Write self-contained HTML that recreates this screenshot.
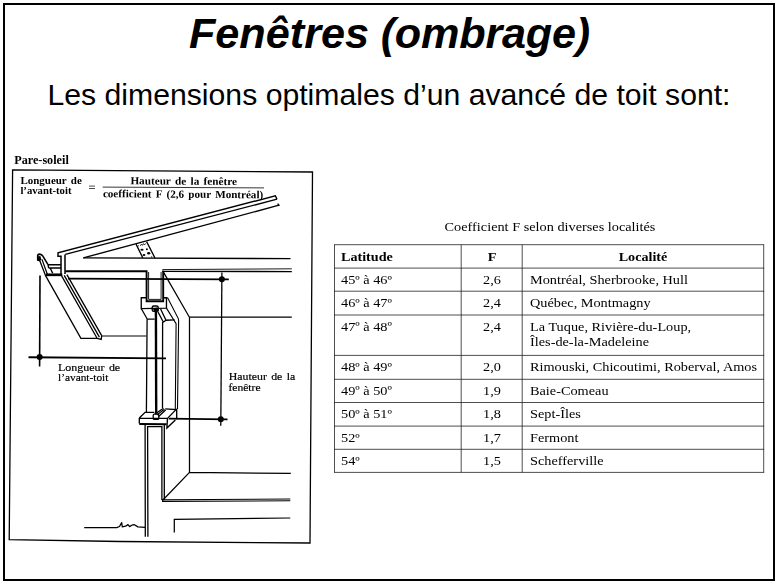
<!DOCTYPE html>
<html><head><meta charset="utf-8">
<style>
html,body{margin:0;padding:0;background:#fff;}
body{width:778px;height:585px;position:relative;overflow:hidden;font-family:"Liberation Sans",sans-serif;color:#000;}
.frame{position:absolute;left:3px;top:2.5px;width:768px;height:574.5px;border:2px solid #000;}
.title{position:absolute;left:0;width:778px;top:6.7px;word-spacing:-0.3px;padding-left:1px;box-sizing:border-box;text-align:center;font-size:43.2px;font-weight:bold;font-style:italic;line-height:52px;white-space:nowrap;}
.sub{position:absolute;left:0;width:778px;top:77px;text-align:center;font-size:30.2px;line-height:36px;white-space:nowrap;}
.ser{font-family:"Liberation Serif",serif;}
.t{position:absolute;white-space:nowrap;font-family:"Liberation Serif",serif;line-height:1;}
.tb{font-size:13.4px;}
.o{position:relative;top:1.8px;}
</style></head><body>
<div class="frame"></div>
<div class="title">Fenêtres <span style="letter-spacing:-0.2px">(ombrage)</span></div>
<div class="sub">Les dimensions optimales d’un avancé de toit sont:</div>
<!--DIAGRAM-->
<svg style="position:absolute;left:0;top:0;filter:grayscale(1)" width="778" height="585" viewBox="0 0 778 585">
<g fill="none" stroke="#000" stroke-width="1.35" stroke-linecap="butt" stroke-linejoin="miter">
<!-- frame -->
<path id="fr" d="M12.6,169.8 L312.5,172 L310,543 L120,541.5 L9.2,539.7 Z" stroke-width="1.3"/>
<!-- formula line -->
<path d="M102.7,187.1 L264,187.9" stroke-width="0.8"/>
<path d="M89,186.1 H95 M89,188.5 H95" stroke-width="0.7"/>
<!-- roof -->
<path d="M58,256.9 V252.9 L275.3,195.8 L277,199.2" stroke-width="1.45"/>
<path d="M65.3,254.3 L277,199.2"/>
<path d="M83.3,257.9 L279,205.2 M277.6,203.6 L279.4,205.8"/>
<path d="M83.3,257.9 L290.5,258.6"/>
<!-- fascia cap -->
<path d="M58,256.2 H61 V274.7 M65,254.5 V274" stroke-width="1.5"/>
<!-- gusset -->
<path d="M136.05,244.1 L142.8,257.9 M146.6,241.6 L154.9,257.9" stroke-width="1.3"/>
<g stroke="none" fill="#000"><circle cx="138.4" cy="245.7" r="0.55"/><ellipse cx="142" cy="249.8" rx="1.6" ry="1"/><circle cx="146.9" cy="249.2" r="0.95"/><ellipse cx="144" cy="255" rx="1.4" ry="1"/><ellipse cx="148.7" cy="253.3" rx="1.6" ry="1.25"/><circle cx="151.7" cy="256.8" r="0.6"/></g><path d="M140.3,245.8 L141.6,244 L142.4,245.4 L143.6,243.6 L144.5,245 L145.6,243.4" stroke-width="0.8"/>
<!-- gutter -->
<path d="M37.7,260.6 V255.8 Q37.7,254.1 39.6,254.1 Q41.8,254.3 42.7,255.9 L48,264.7" stroke-width="1.6" stroke-linejoin="round"/>
<path d="M39.9,261 L45.7,276 M42,259.4 L47.4,274.4" stroke-width="1.3"/>
<path d="M48,264.8 H61.1 M48.7,268 H61.1 M48,264.7 L48.7,268 M50.3,268.3 L52.7,273.3" stroke-width="1.4"/>
<path d="M46,274.8 H62.3" stroke-width="2.7"/>
<!-- ceiling/top plate thick with U -->
<path d="M65.3,271.2 H146.6 V301.3 H163.2 V271.2" stroke-width="1.9"/>
<path d="M162.3,271.4 L291.8,271.6" stroke-width="1.4"/>
<path d="M162.4,269.6 L291.8,268.8" stroke-width="0.9"/>
<path d="M148.6,272 V299.4 H161.1 V272" stroke-width="0.9"/>
<!-- lower soffit line / dim line -->
<path d="M68,278.7 L228.8,279.4" stroke-width="1.8"/>
<!-- vertical dim line for hauteur -->
<path d="M221.9,272.6 L220.8,425.7" stroke-width="1.3"/>
<path d="M168.8,418.7 L227.5,419.3" stroke-width="1.8"/>
<!-- longueur dim -->
<path d="M40,275.5 L39.6,366.6" stroke-width="1.6"/>
<path d="M28.5,357.2 L166,358.4" stroke-width="1.9"/>
<!-- fascia board sloping -->
<path d="M45.4,275.4 L80.9,338.3 H97.1 L61.6,275.9 M64.2,275.4 L99.4,337.1 M66.9,274.6 L101.7,335.6 M97.1,338.3 L101.2,339.4 L101.7,335.6" stroke-width="1.3"/>
<path d="M101.7,336 H146.5" stroke-width="1.2"/>
<!-- room lines -->
<path d="M162.6,270.6 L189.4,317.2 L291.8,317.2 M189.5,317.2 V472.4 L290.8,473.4 M189.5,472.4 L162.2,500.7" stroke-width="1.25"/>
<path d="M162,499.8 L290.3,499 M162,501.4 L290.3,500.8" stroke-width="1.1"/>
<path d="M174.3,532.6 V519.4 L290.3,518" stroke-width="1.25"/>
<!-- ground -->
<path d="M84.2,527.7 L116.7,527.6 L119.5,526.5 L121.7,522.6 L122.3,526.9 L125.5,526.2 L128,524.6 L129.6,526.6 L131.8,525.2 L134.4,524.7 L137.9,526.9 L145,527.3" stroke-width="1.25" stroke-linejoin="round"/>
</g>
<g fill="#000" stroke="none">
<circle cx="221.9" cy="279.3" r="3"/>
<circle cx="220.8" cy="419.2" r="3"/>
<circle cx="39.6" cy="357" r="3"/>
<path d="M37.2,256.6 L40.4,256 L41.3,259.4 L40,261.6 L37.2,260.8 Z"/>
</g>
<g fill="none" stroke="#000" stroke-width="1.3">
<!-- head trim front -->
<path d="M146,297.7 H141.25 V308.55 L166.45,308.1 V297.7 M163.8,297.7 H167.6" stroke-width="1.35"/>
<path d="M141.25,308.55 L147.3,319.2 H154.7 M147.1,319.2 L146.4,412.3" stroke-width="1.3"/>
<!-- right jamb -->
<path d="M167.6,297.7 L178.3,318.6 Q178.8,320 178.6,322 L177.5,409" stroke-width="1.1"/>
<path d="M166.45,308.1 L176.1,323.6 L175.3,409" stroke-width="1.1"/>
<!-- sash top -->
<rect x="152.2" y="306" width="6" height="5.4" rx="1.6" stroke-width="1.4"/>
<path d="M155.9,309 L156.2,413.5" stroke-width="2.4"/>
<path d="M157.9,311.7 L163.3,322.05 L166,320.25 L160.6,309 M166,320.25 L174.6,319.8 M162.6,322 L162.5,408" stroke-width="1.3"/>
<!-- sill -->
<path d="M139.3,418.05 L167.5,418.4 L166.9,428 L175.4,420 M139.3,418.05 V423.6 M139.3,418.05 L145.1,412.3 H154.4 M167.5,418.4 L176,409.6 L165.2,408.8 M176.7,408.8 V419.3" stroke-width="1.35"/>
<path d="M139.3,423.9 L166.6,424.2" stroke-width="2"/>
<!-- sash bottom -->
<path d="M155,414 L163.5,408.2 M158.6,416.4 L165.6,410" stroke-width="1.35"/>
<path d="M156.8,414.9 L164.5,409.2" stroke-width="1.2"/>
<rect x="153.2" y="414.2" width="5.6" height="5.2" rx="1.2" stroke-width="1.3"/>
<!-- wall below sill -->
<path d="M145.1,424.5 L145.3,536.7 M147.9,536.7 L147.6,426.6 H161.9 V500 M164.3,424.5 V500" stroke-width="1.3"/>
</g>
<path d="M153,309.5 L156,307.5 L158.6,308.5 L158.4,311.6 L154.5,311.8 Z" fill="#000"/>

<g font-family="Liberation Serif, serif" fill="#000" stroke="none" word-spacing="1.5">
<g font-weight="bold">
<text x="14.2" y="163.9" font-size="11.5" textLength="54.6" lengthAdjust="spacingAndGlyphs">Pare-soleil</text>
<text x="20.4" y="183.7" font-size="10.9" textLength="61.4" lengthAdjust="spacingAndGlyphs">Longueur de</text>
<text x="20.4" y="193.5" font-size="10.9" textLength="51.1" lengthAdjust="spacingAndGlyphs">l’avant-toit</text>
<text x="130.4" y="184.3" font-size="10.9" textLength="106.6" lengthAdjust="spacingAndGlyphs" transform="rotate(0.4 130 184)">Hauteur de la fenêtre</text>
<text x="102.9" y="197.2" font-size="10.9" textLength="160.3" lengthAdjust="spacingAndGlyphs" transform="rotate(0.4 103 197)">coefficient F (2,6 pour Montréal)</text>
</g>
<text stroke="#000" stroke-width="0.2" x="58" y="371" font-size="11.3" textLength="62.2" lengthAdjust="spacingAndGlyphs" word-spacing="1.3">Longueur de</text>
<text stroke="#000" stroke-width="0.2" x="58" y="380.9" font-size="11.3" textLength="50.4" lengthAdjust="spacingAndGlyphs">l’avant-toit</text>
<text stroke="#000" stroke-width="0.2" x="228.7" y="380" font-size="11.3" textLength="66.5" lengthAdjust="spacingAndGlyphs" word-spacing="1.3">Hauteur de la</text>
<text stroke="#000" stroke-width="0.2" x="228.4" y="391" font-size="11.3" textLength="32.2" lengthAdjust="spacingAndGlyphs">fenêtre</text>
</g>

</svg>

<!--/DIAGRAM-->
<!--TABLE-->
<svg style="position:absolute;left:0;top:0" width="778" height="585" viewBox="0 0 778 585">
<g stroke="#222" stroke-width="0.8" fill="none">
<line x1="334.0" y1="244.7" x2="764.2" y2="244.7"/>
<line x1="334.0" y1="268.1" x2="764.2" y2="268.1"/>
<line x1="334.0" y1="291.2" x2="764.2" y2="291.2"/>
<line x1="334.0" y1="315" x2="764.2" y2="315"/>
<line x1="334.0" y1="355.4" x2="764.2" y2="355.4"/>
<line x1="334.0" y1="379.3" x2="764.2" y2="379.3"/>
<line x1="334.0" y1="402.5" x2="764.2" y2="402.5"/>
<line x1="334.0" y1="426.1" x2="764.2" y2="426.1"/>
<line x1="334.0" y1="449.3" x2="764.2" y2="449.3"/>
<line x1="334.0" y1="472.4" x2="764.2" y2="472.4"/>
<line x1="334.5" y1="244.7" x2="334.5" y2="472.4"/>
<line x1="461.2" y1="244.7" x2="461.2" y2="472.4"/>
<line x1="522.2" y1="244.7" x2="522.2" y2="472.4"/>
<line x1="763.7" y1="244.7" x2="763.7" y2="472.4"/>
</g></svg>
<div class="t tb" style="left:489.79999999999995px;width:120px;text-align:center;top:220.48px;transform:scaleX(1.067);left:400px;width:300px;">Coefficient F selon diverses localités</div>
<div class="t tb" style="left:341.4px;top:250.08px;transform-origin:0 0;transform:scaleX(1.067);font-weight:bold;transform:scaleX(1.055);">Latitude</div>
<div class="t tb" style="left:431.7px;width:120px;text-align:center;top:250.08px;transform:scaleX(1.067);font-weight:bold;">F</div>
<div class="t tb" style="left:583px;width:120px;text-align:center;top:250.08px;transform:scaleX(1.067);font-weight:bold;transform:scaleX(1.055);">Localité</div>
<div class="t tb" style="left:341px;top:273.18px;transform-origin:0 0;transform:scaleX(1.067);">45<span class="o">º</span> à 46<span class="o">º</span></div>
<div class="t tb" style="left:431.7px;width:120px;text-align:center;top:273.18px;transform:scaleX(1.067);">2,6</div>
<div class="t tb" style="left:530.4px;top:273.18px;transform-origin:0 0;transform:scaleX(1.067);">Montréal, Sherbrooke, Hull</div>
<div class="t tb" style="left:341px;top:296.28px;transform-origin:0 0;transform:scaleX(1.067);">46<span class="o">º</span> à 47<span class="o">º</span></div>
<div class="t tb" style="left:431.7px;width:120px;text-align:center;top:296.28px;transform:scaleX(1.067);">2,4</div>
<div class="t tb" style="left:530.4px;top:296.28px;transform-origin:0 0;transform:scaleX(1.067);">Québec, Montmagny</div>
<div class="t tb" style="left:341px;top:319.58px;transform-origin:0 0;transform:scaleX(1.067);">47<span class="o">º</span> à 48<span class="o">º</span></div>
<div class="t tb" style="left:431.7px;width:120px;text-align:center;top:319.58px;transform:scaleX(1.067);">2,4</div>
<div class="t tb" style="left:530.4px;top:319.58px;transform-origin:0 0;transform:scaleX(1.067);">La Tuque, Rivière-du-Loup,</div>
<div class="t tb" style="left:341px;top:360.18px;transform-origin:0 0;transform:scaleX(1.067);">48<span class="o">º</span> à 49<span class="o">º</span></div>
<div class="t tb" style="left:431.7px;width:120px;text-align:center;top:360.18px;transform:scaleX(1.067);">2,0</div>
<div class="t tb" style="left:530.4px;top:360.18px;transform-origin:0 0;transform:scaleX(1.067);">Rimouski, Chicoutimi, Roberval, Amos</div>
<div class="t tb" style="left:341px;top:383.58px;transform-origin:0 0;transform:scaleX(1.067);">49<span class="o">º</span> à 50<span class="o">º</span></div>
<div class="t tb" style="left:431.7px;width:120px;text-align:center;top:383.58px;transform:scaleX(1.067);">1,9</div>
<div class="t tb" style="left:530.4px;top:383.58px;transform-origin:0 0;transform:scaleX(1.067);">Baie-Comeau</div>
<div class="t tb" style="left:341px;top:407.18px;transform-origin:0 0;transform:scaleX(1.067);">50<span class="o">º</span> à 51<span class="o">º</span></div>
<div class="t tb" style="left:431.7px;width:120px;text-align:center;top:407.18px;transform:scaleX(1.067);">1,8</div>
<div class="t tb" style="left:530.4px;top:407.18px;transform-origin:0 0;transform:scaleX(1.067);">Sept-Îles</div>
<div class="t tb" style="left:341px;top:430.78px;transform-origin:0 0;transform:scaleX(1.067);">52<span class="o">º</span></div>
<div class="t tb" style="left:431.7px;width:120px;text-align:center;top:430.78px;transform:scaleX(1.067);">1,7</div>
<div class="t tb" style="left:530.4px;top:430.78px;transform-origin:0 0;transform:scaleX(1.067);">Fermont</div>
<div class="t tb" style="left:341px;top:453.98px;transform-origin:0 0;transform:scaleX(1.067);">54<span class="o">º</span></div>
<div class="t tb" style="left:431.7px;width:120px;text-align:center;top:453.98px;transform:scaleX(1.067);">1,5</div>
<div class="t tb" style="left:530.4px;top:453.98px;transform-origin:0 0;transform:scaleX(1.067);">Schefferville</div>
<div class="t tb" style="left:530.4px;top:334.68px;transform-origin:0 0;transform:scaleX(1.067);">Îles-de-la-Madeleine</div>
<!--/TABLE-->
</body></html>
